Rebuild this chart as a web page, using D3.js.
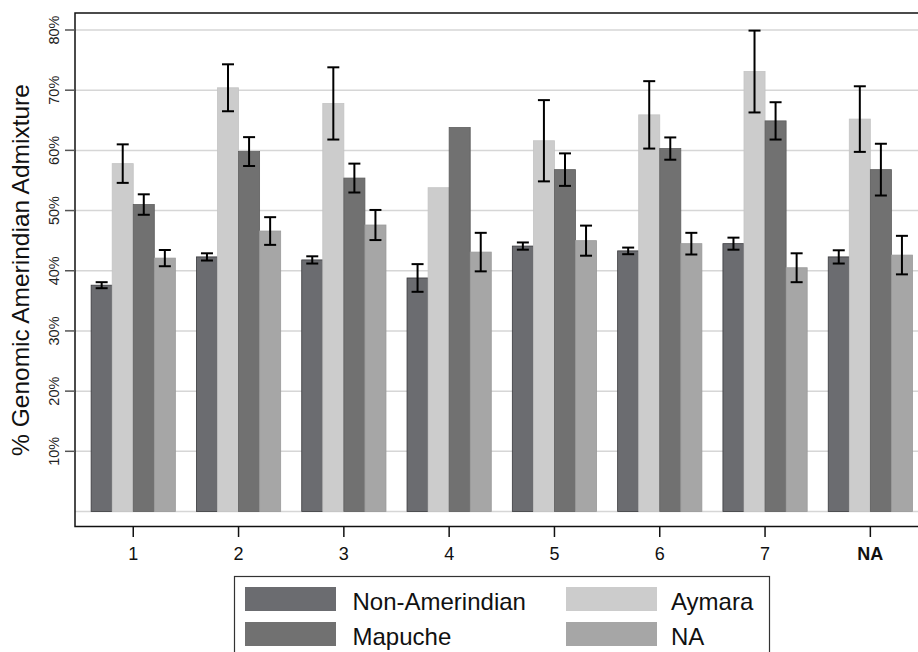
<!DOCTYPE html>
<html>
<head>
<meta charset="utf-8">
<script src="https://cdn.jsdelivr.net/npm/d3@7"></script>
<style>
  body { margin: 0; background: #fff; }
  svg { font-family: "Liberation Sans", Arial, sans-serif; }
</style>
</head>
<body>
<div id="chart"></div>
<script>
// categories and series (percent)
const categories = ["1", "2", "3", "4", "5", "6", "7", "NA"];
const groups = ["Non-Amerindian", "Aymara", "Mapuche", "NA"];
const nonAmerindian = [37.6, 42.3, 41.8, 38.8, 44.1, 43.3, 44.5, 42.3];
const nonAmerindianErr = [0.5, 0.6, 0.6, 2.3, 0.6, 0.55, 1.0, 1.1];
const aymara = [57.8, 70.4, 67.8, 53.8, 61.6, 65.9, 73.1, 65.2];
const aymaraErr = [3.2, 3.9, 6.0, null, 6.75, 5.6, 6.8, 5.45];
const mapuche = [51.0, 59.8, 55.4, 63.8, 56.8, 60.3, 64.9, 56.8];
const mapucheErr = [1.7, 2.4, 2.4, null, 2.7, 1.85, 3.1, 4.3];
const naGroup = [42.1, 46.6, 47.6, 43.1, 45.0, 44.5, 40.5, 42.6];
const naErr = [1.35, 2.3, 2.5, 3.2, 2.5, 1.8, 2.4, 3.2];
const yTicks = [10, 20, 30, 40, 50, 60, 70, 80];

const seriesValues = [nonAmerindian, aymara, mapuche, naGroup];
const seriesErrors = [nonAmerindianErr, aymaraErr, mapucheErr, naErr];
const colors = ["#6b6c70", "#cccccc", "#717171", "#a6a6a6"];
const strokes = ["#3a3a3e", "#c4c4c4", "#5e5e5e", "#9a9a9a"];

const width = 918, height = 652;
const box = { left: 75, top: 13, right: 922, bottom: 526.5 };

const svg = d3.select("#chart").append("svg")
    .attr("width", width)
    .attr("height", height);

const x = d3.scaleBand()
    .domain(categories)
    .range([80.6, 923])
    .paddingInner(0.2)
    .paddingOuter(0.1);

const xInner = d3.scaleBand()
    .domain(groups)
    .range([0, x.bandwidth()]);

const y = d3.scaleLinear()
    .domain([0, 80])
    .range([511.5, 30]);

// grid lines (incl. zero line)
svg.append("g")
    .selectAll("line")
    .data([0].concat(yTicks))
    .enter().append("line")
    .attr("x1", box.left)
    .attr("x2", box.right)
    .attr("y1", d => y(d))
    .attr("y2", d => y(d))
    .attr("stroke", "#d6d6d6")
    .attr("stroke-width", 1.5);

// flatten data
const rows = [];
categories.forEach((c, i) => {
    groups.forEach((g, j) => {
        rows.push({ cat: c, grp: g, j: j, value: seriesValues[j][i], err: seriesErrors[j][i] });
    });
});

// bars
svg.append("g")
    .selectAll("rect")
    .data(rows)
    .enter().append("rect")
    .attr("x", d => x(d.cat) + xInner(d.grp))
    .attr("y", d => y(d.value))
    .attr("width", xInner.bandwidth())
    .attr("height", d => y(0) - y(d.value))
    .attr("fill", d => colors[d.j])
    .attr("stroke", d => strokes[d.j])
    .attr("stroke-width", 0.8);

// error bars
const errs = svg.append("g")
    .attr("stroke", "#000")
    .attr("stroke-width", 2)
    .selectAll("g")
    .data(rows.filter(d => d.err != null))
    .enter().append("g");

const cx = d => x(d.cat) + xInner(d.grp) + xInner.bandwidth() / 2;
errs.append("line")
    .attr("x1", cx).attr("x2", cx)
    .attr("y1", d => y(d.value + d.err))
    .attr("y2", d => y(d.value - d.err));
errs.append("line")
    .attr("x1", d => cx(d) - 6).attr("x2", d => cx(d) + 6)
    .attr("y1", d => y(d.value + d.err))
    .attr("y2", d => y(d.value + d.err));
errs.append("line")
    .attr("x1", d => cx(d) - 6).attr("x2", d => cx(d) + 6)
    .attr("y1", d => y(d.value - d.err))
    .attr("y2", d => y(d.value - d.err));

// plot frame
svg.append("rect")
    .attr("x", box.left)
    .attr("y", box.top)
    .attr("width", box.right - box.left)
    .attr("height", box.bottom - box.top)
    .attr("fill", "none")
    .attr("stroke", "#111")
    .attr("stroke-width", 1.5);

// y axis ticks and labels
const yAxis = svg.append("g");
yAxis.selectAll("line")
    .data(yTicks)
    .enter().append("line")
    .attr("x1", 65)
    .attr("x2", box.left)
    .attr("y1", d => y(d))
    .attr("y2", d => y(d))
    .attr("stroke", "#555")
    .attr("stroke-width", 1.5);
yAxis.selectAll("text")
    .data(yTicks)
    .enter().append("text")
    .attr("transform", d => `translate(58.5,${y(d)}) rotate(-90)`)
    .attr("text-anchor", "middle")
    .attr("font-size", 14.5)
    .attr("fill", "#222")
    .text(d => d + "%");

svg.append("text")
    .attr("transform", `translate(28.5,270) rotate(-90)`)
    .attr("text-anchor", "middle")
    .attr("font-size", 24.5)
    .attr("fill", "#111")
    .text("% Genomic Amerindian Admixture");

// x axis
const xAxis = svg.append("g");
xAxis.selectAll("line")
    .data(categories)
    .enter().append("line")
    .attr("x1", d => x(d) + x.bandwidth() / 2)
    .attr("x2", d => x(d) + x.bandwidth() / 2)
    .attr("y1", box.bottom)
    .attr("y2", 537)
    .attr("stroke", "#111")
    .attr("stroke-width", 1.5);
xAxis.selectAll("text")
    .data(categories)
    .enter().append("text")
    .attr("x", d => x(d) + x.bandwidth() / 2)
    .attr("y", 560)
    .attr("text-anchor", "middle")
    .attr("font-size", 18)
    .attr("font-weight", d => d === "NA" ? "bold" : "normal")
    .attr("fill", "#111")
    .text(d => d);

// legend
const legend = svg.append("g");
legend.append("rect")
    .attr("x", 234.5)
    .attr("y", 576.5)
    .attr("width", 535)
    .attr("height", 90)
    .attr("fill", "#fff")
    .attr("stroke", "#333")
    .attr("stroke-width", 1.2);

const legendPos = [
    { x: 245, y: 587 },
    { x: 566, y: 587 },
    { x: 245, y: 622 },
    { x: 566, y: 622 }
];
const legendItems = legend.selectAll("g")
    .data(groups)
    .enter().append("g")
    .attr("transform", (d, i) => `translate(${legendPos[i].x},${legendPos[i].y})`);
legendItems.append("rect")
    .attr("width", 91)
    .attr("height", 24)
    .attr("fill", (d, i) => colors[i]);
legendItems.append("text")
    .attr("x", (d, i) => i % 2 === 0 ? 107.5 : 105)
    .attr("y", 22.5)
    .attr("font-size", 24)
    .attr("fill", "#111")
    .text(d => d);
</script>
</body>
</html>
